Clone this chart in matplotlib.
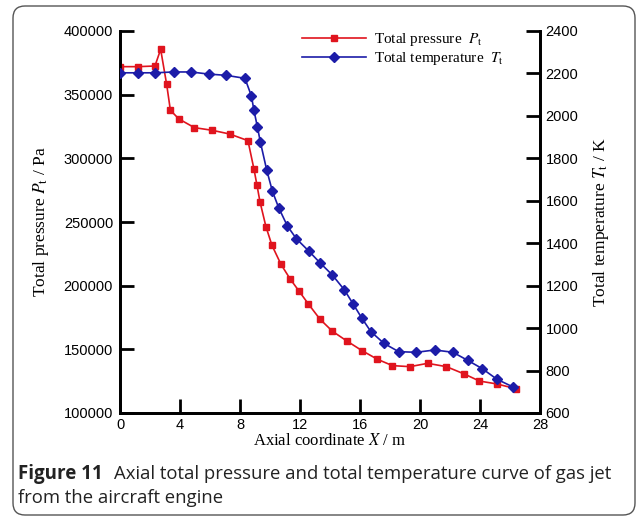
import numpy as np
import matplotlib.pyplot as plt
from matplotlib.patches import FancyBboxPatch
from matplotlib.transforms import IdentityTransform

# Presiune totala (Pa) pe axa jetului
x_p = [0, 1.18, 2.33, 2.71, 3.11, 3.36, 3.93, 4.96, 6.16, 7.31, 8.53, 8.93,
       9.13, 9.33, 9.73, 10.13, 10.73, 11.33, 11.93, 12.56, 13.33, 14.16,
       15.13, 16.13, 17.16, 18.16, 19.33, 20.51, 21.76, 22.96, 23.96, 25.13,
       26.38]
p_t = [372000, 372000, 372500, 385600, 358100, 337700, 330900, 324100,
       322000, 319100, 313900, 291600, 279000, 266000, 246300, 231700,
       216800, 205500, 195800, 185600, 173700, 164200, 156500, 149000,
       142200, 137200, 136400, 139000, 136400, 130600, 125100, 122800,
       119100]

# Temperatura totala (K)
x_t = [0, 1.18, 2.33, 3.58, 4.73, 5.91, 7.09, 8.33, 8.76, 8.93, 9.16, 9.36,
       9.78, 10.16, 10.58, 11.16, 11.76, 12.6, 13.33, 14.16, 14.96, 15.53,
       16.13, 16.73, 17.6, 18.58, 19.76, 20.98, 22.2, 23.18, 24.15, 25.13,
       26.22]
t_t = [2203, 2203, 2203, 2207, 2207, 2197, 2191, 2177, 2094, 2026, 1948,
       1876, 1745, 1645, 1567, 1481, 1421, 1362, 1308, 1250, 1180, 1115,
       1046, 983, 928, 889, 886, 897, 886, 848, 809, 759, 722]

x_ticks = [0, 4, 8, 12, 16, 20, 24, 28]
p_ticks = [100000, 150000, 200000, 250000, 300000, 350000, 400000]
t_ticks = [600, 800, 1000, 1200, 1400, 1600, 1800, 2000, 2200, 2400]

plt.rcParams['mathtext.fontset'] = 'stix'
tick_font = 'Liberation Sans'
lab_font = 'Liberation Serif'

fig = plt.figure(figsize=(6.37, 5.17), dpi=100)
ax = fig.add_axes([120/637, 1 - 413/517, 420/637, 382/517])
ax2 = ax.twinx()

red = '#e0141e'
blue = '#1c1ca8'
l1, = ax.plot(x_p, p_t, color=red, lw=1.2, marker='s', ms=4.6, zorder=3)
l2, = ax2.plot(x_t, t_t, color=blue, lw=1.2, marker='D', ms=5, zorder=3)

ax.set_xlim(0, 28)
ax.set_ylim(100000, 400000)
ax2.set_ylim(600, 2400)
ax.set_xticks(x_ticks)
ax.set_yticks(p_ticks)
ax2.set_yticks(t_ticks)

for a in (ax, ax2):
    a.spines['top'].set_visible(False)
    for s in a.spines.values():
        s.set_linewidth(2)
    a.tick_params(direction='in', width=2, length=10, labelsize=10.5)
    for lab in a.get_xticklabels() + a.get_yticklabels():
        lab.set_family(tick_font)
ax.tick_params(axis='y', pad=5)
ax2.tick_params(axis='y', pad=4)

ax.set_xlabel('Axial coordinate $X$ / m', family=lab_font, fontsize=12, labelpad=1)
ax.set_ylabel('Total pressure $P_\\mathrm{t}$ / Pa', family=lab_font, fontsize=12.5, labelpad=9)
ax2.set_ylabel('Total temperature $T_\\mathrm{t}$ / K', family=lab_font, fontsize=12.5, labelpad=9)

leg = ax.legend([l1, l2], ['Total pressure  $P_\\mathrm{t}$', 'Total temperature  $T_\\mathrm{t}$'],
                loc='upper left', bbox_to_anchor=(182/420, 1.0), frameon=False,
                borderpad=0, borderaxespad=0,
                handlelength=4.2, handletextpad=0.5, labelspacing=0.15,
                prop={'family': lab_font, 'size': 11})

# chenarul rotunjit si legenda figurii
box = FancyBboxPatch((13, 2), 622, 509, boxstyle='round,pad=0,rounding_size=12',
                     transform=IdentityTransform(), fill=False, ec='#555555', lw=1)
fig.patches.append(box)
fig.text(18/637, 1 - 479/517, 'Figure 11', fontsize=13.5, weight='bold',
         family='Open Sans', va='baseline', color='#222222')
fig.text(114/637, 1 - 479/517, 'Axial total pressure and total temperature curve of gas jet',
         fontsize=13.3, family='Open Sans', va='baseline', color='#222222')
fig.text(18/637, 1 - 503/517, 'from the aircraft engine', fontsize=13.3,
         family='Open Sans', va='baseline', color='#222222')

fig.savefig('out.png', dpi=100)
